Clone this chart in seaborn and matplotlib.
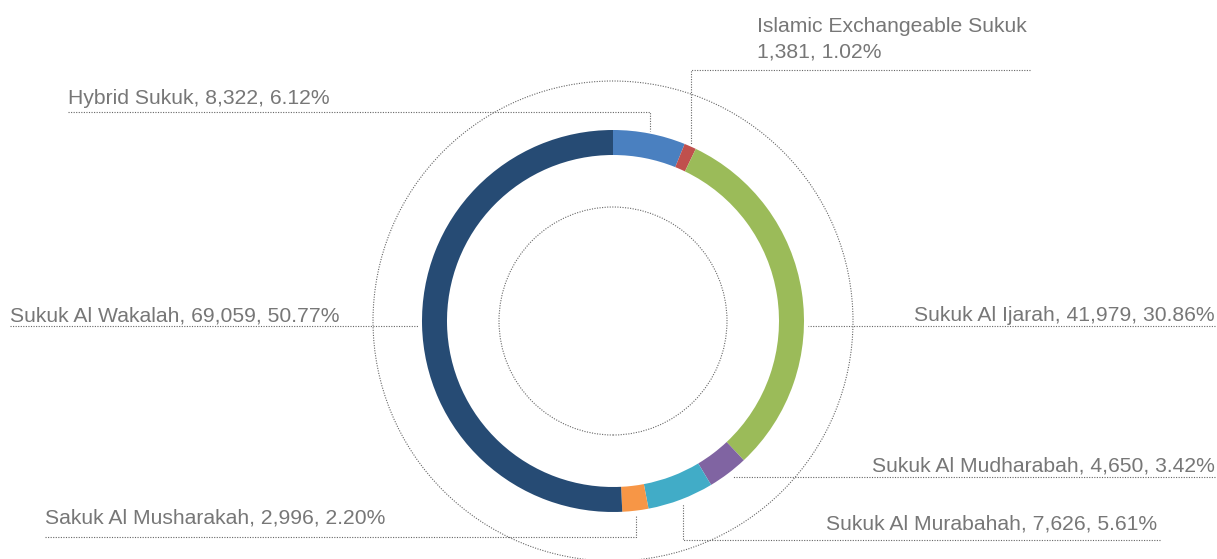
import numpy as np
import matplotlib
matplotlib.use('Agg')
import matplotlib.pyplot as plt
import seaborn as sns

# data (clockwise from 12 o'clock)
names = ["Hybrid Sukuk", "Islamic Exchangeable Sukuk", "Sukuk Al Ijarah",
         "Sukuk Al Mudharabah", "Sukuk Al Murabahah", "Sakuk Al Musharakah",
         "Sukuk Al Wakalah"]
values = [8322, 1381, 41979, 4650, 7626, 2996, 69059]
shares = [6.12, 1.02, 30.86, 3.42, 5.61, 2.20, 50.77]
colors = ["#4a80c0", "#c0504d", "#9bbb59", "#8064a2", "#41acc7", "#f79646", "#264b74"]

W, H = 1217, 559
CX, CY = 613, 321        # ring centre in pixels, y from top
R, RING = 191, 25
TXT = "#777777"
FS = 15.2
DOT = dict(color="#666666", lw=0.8, ls=(0, (1, 1.3)))

# label layout (pixels, y from top): text x, baseline y, align, leader y, leader far end, kind, gap
layout = [
    (68, 104, "left", 112, 68, "elbow", 3),
    (757, 32, "left", 70, 1030, "elbow", 1),
    (1215, 321, "right", 326, 1215, "flat", 4),
    (1215, 471, "right", 477, 1215, "flat", 6),
    (1157, 530, "right", 540, 1160, "elbow", 5),
    (45, 523, "left", 537, 45, "elbow", 5),
    (10, 321, "left", 326, 10, "flat", 4),
]

sns.set_theme(style="white")
plt.rcParams['font.family'] = ['Liberation Sans', 'DejaVu Sans']

fig = plt.figure(figsize=(W / 100, H / 100), dpi=100)
ax = fig.add_axes([0, 0, 1, 1])

def fy(y):
    return H - y

wedges, _ = ax.pie(values, colors=sns.color_palette(colors), startangle=90,
                   counterclock=False, center=(CX, fy(CY)), radius=R,
                   wedgeprops=dict(width=RING, linewidth=0))

# dotted guide circles
for rr in (240, 114):
    ax.add_patch(plt.Circle((CX, fy(CY)), rr, fill=False, **DOT))

for i, w in enumerate(wedges):
    tx, ty, ha, ly, far, kind, gap = layout[i]
    if i == 1:
        ax.text(tx, fy(ty), names[i], ha=ha, va="baseline", fontsize=FS, color=TXT)
        ax.text(tx, fy(ty + 26), f"{values[i]:,}, {shares[i]:.2f}%", ha=ha,
                va="baseline", fontsize=FS, color=TXT)
    else:
        ax.text(tx, fy(ty), f"{names[i]}, {values[i]:,}, {shares[i]:.2f}%", ha=ha,
                va="baseline", fontsize=FS, color=TXT)
    if kind == "elbow":
        mid = np.deg2rad((w.theta1 + w.theta2) / 2)
        axp = CX + (R + gap) * np.cos(mid)
        ayp = fy(CY) + (R + gap) * np.sin(mid)
        ax.plot([far, axp, axp], [fy(ly), fy(ly), ayp], **DOT)
    else:
        dy = ly - CY
        dx = np.sqrt((R + gap) ** 2 - dy ** 2)
        ex = CX + dx if far > CX else CX - dx
        ax.plot([far, ex], [fy(ly), fy(ly)], **DOT)

ax.set_xlim(0, W)
ax.set_ylim(0, H)
ax.set_aspect("equal")
ax.axis("off")

fig.savefig("out.png", dpi=100)
plt.close(fig)
